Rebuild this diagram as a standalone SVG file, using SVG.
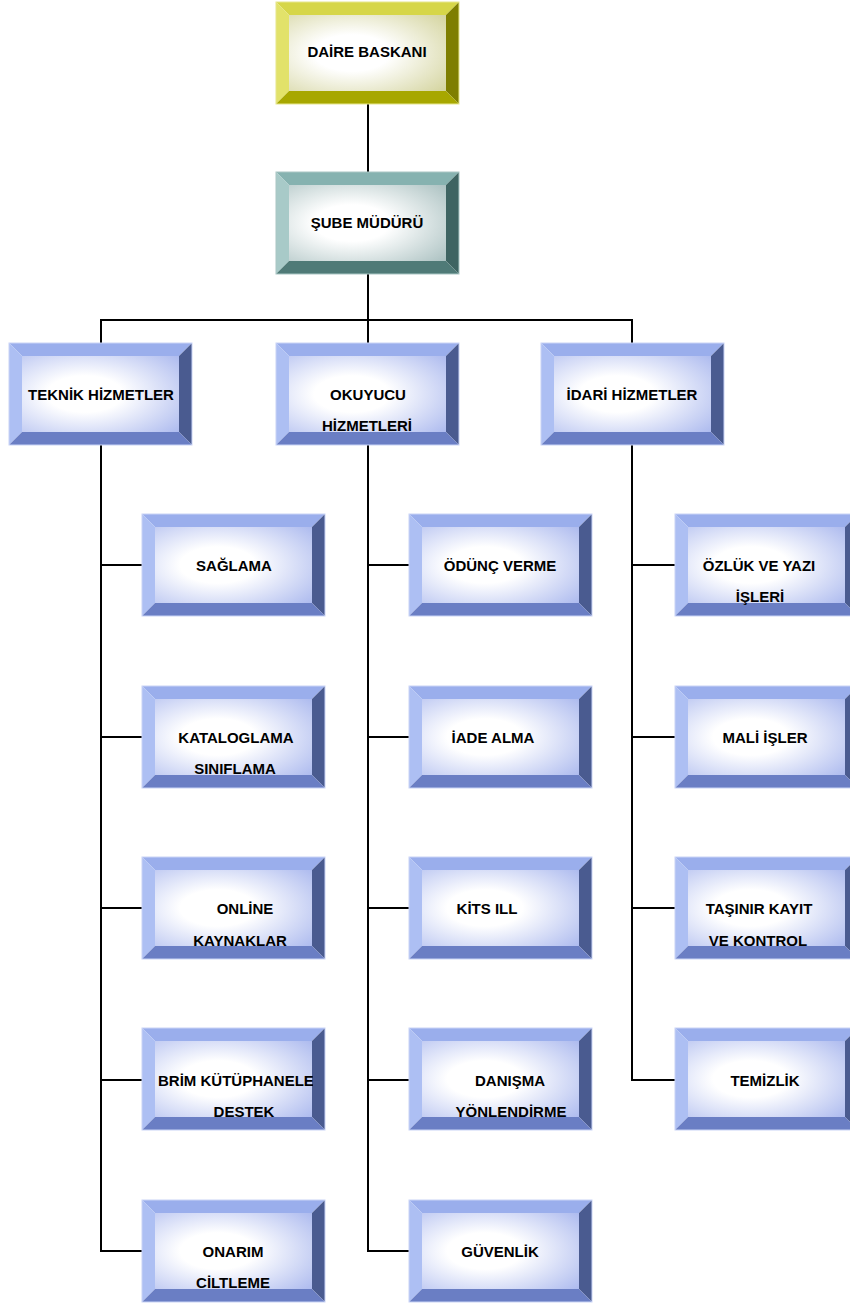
<svg xmlns="http://www.w3.org/2000/svg" xmlns:xlink="http://www.w3.org/1999/xlink" width="850" height="1304" viewBox="0 0 850 1304">
<style>
text{font-family:"Liberation Sans",Arial,sans-serif;font-weight:bold;font-size:15px;fill:#000;text-anchor:middle;dominant-baseline:central}
.ln{stroke:#000;stroke-width:2;fill:none}
.bT{fill:#9aaeec}.bL{fill:#adbff3}.bR{fill:#4a5b90}.bB{fill:#6a7ec4}
.yT{fill:#d6d648}.yL{fill:#e2e26a}.yR{fill:#7e7e00}.yB{fill:#a7a700}
.gT{fill:#86b2b0}.gL{fill:#a8cac8}.gR{fill:#3e6462}.gB{fill:#4f7a77}
</style>
<defs>
<radialGradient id="fb" cx="0.4" cy="0.5" r="0.8"><stop offset="0.3" stop-color="#ffffff"/><stop offset="1" stop-color="#aab8ee"/></radialGradient>
<radialGradient id="fy" cx="0.4" cy="0.5" r="0.8"><stop offset="0.3" stop-color="#ffffff"/><stop offset="1" stop-color="#d2d29a"/></radialGradient>
<radialGradient id="fg" cx="0.4" cy="0.5" r="0.8"><stop offset="0.3" stop-color="#ffffff"/><stop offset="1" stop-color="#a8bfbf"/></radialGradient>
<g id="boxB">
<polygon class="bT" points="0,0 183,0 170,13 13,13"/>
<polygon class="bL" points="0,0 13,13 13,89 0,102"/>
<polygon class="bR" points="183,0 183,102 170,89 170,13"/>
<polygon class="bB" points="0,102 13,89 170,89 183,102"/>
<rect x="13" y="13" width="157" height="76" fill="url(#fb)"/>
<rect x="0" y="0" width="183" height="102" fill="none" stroke="#c9d4f6" stroke-width="1"/>
</g>
<g id="boxY">
<polygon class="yT" points="0,0 183,0 170,13 13,13"/>
<polygon class="yL" points="0,0 13,13 13,89 0,102"/>
<polygon class="yR" points="183,0 183,102 170,89 170,13"/>
<polygon class="yB" points="0,102 13,89 170,89 183,102"/>
<rect x="13" y="13" width="157" height="76" fill="url(#fy)"/>
<rect x="0" y="0" width="183" height="102" fill="none" stroke="#e6e68c" stroke-width="1"/>
</g>
<g id="boxG">
<polygon class="gT" points="0,0 183,0 170,13 13,13"/>
<polygon class="gL" points="0,0 13,13 13,89 0,102"/>
<polygon class="gR" points="183,0 183,102 170,89 170,13"/>
<polygon class="gB" points="0,102 13,89 170,89 183,102"/>
<rect x="13" y="13" width="157" height="76" fill="url(#fg)"/>
<rect x="0" y="0" width="183" height="102" fill="none" stroke="#a9c6c4" stroke-width="1"/>
</g>
<clipPath id="clipBrim"><rect x="142" y="1028" width="171" height="103"/></clipPath>
</defs>

<g id="connectors">
<line class="ln" x1="368" y1="104" x2="368" y2="172"/>
<line class="ln" x1="368" y1="274" x2="368" y2="320"/>
<polyline class="ln" points="101,343 101,320 632,320 632,343"/>
<line class="ln" x1="368" y1="320" x2="368" y2="343"/>
<line class="ln" x1="101" y1="445" x2="101" y2="1251"/>
<line class="ln" x1="368" y1="445" x2="368" y2="1251"/>
<line class="ln" x1="632" y1="445" x2="632" y2="1080"/>
<line class="ln" x1="100" y1="565" x2="142" y2="565"/>
<line class="ln" x1="100" y1="737" x2="142" y2="737"/>
<line class="ln" x1="100" y1="908" x2="142" y2="908"/>
<line class="ln" x1="100" y1="1080" x2="142" y2="1080"/>
<line class="ln" x1="100" y1="1251" x2="142" y2="1251"/>
<line class="ln" x1="367" y1="565" x2="409" y2="565"/>
<line class="ln" x1="367" y1="737" x2="409" y2="737"/>
<line class="ln" x1="367" y1="908" x2="409" y2="908"/>
<line class="ln" x1="367" y1="1080" x2="409" y2="1080"/>
<line class="ln" x1="367" y1="1251" x2="409" y2="1251"/>
<line class="ln" x1="631" y1="565" x2="675" y2="565"/>
<line class="ln" x1="631" y1="737" x2="675" y2="737"/>
<line class="ln" x1="631" y1="908" x2="675" y2="908"/>
<line class="ln" x1="631" y1="1080" x2="675" y2="1080"/>
</g>

<g id="daire-baskani"><use xlink:href="#boxY" transform="translate(276,2)"/><text x="367" y="51">DAİRE BASKANI</text></g>
<g id="sube-muduru"><use xlink:href="#boxG" transform="translate(276,172)"/><text x="367" y="222">ŞUBE MÜDÜRÜ</text></g>

<g id="teknik-hizmetler"><use xlink:href="#boxB" transform="translate(9,343)"/><text x="101" y="394">TEKNİK HİZMETLER</text></g>
<g id="okuyucu-hizmetleri"><use xlink:href="#boxB" transform="translate(276,343)"/><text x="368" y="394">OKUYUCU</text><text x="367" y="425">HİZMETLERİ</text></g>
<g id="idari-hizmetler"><use xlink:href="#boxB" transform="translate(541,343)"/><text x="632" y="394">İDARİ HİZMETLER</text></g>

<g id="saglama"><use xlink:href="#boxB" transform="translate(142,514)"/><text x="234" y="565">SAĞLAMA</text></g>
<g id="kataloglama"><use xlink:href="#boxB" transform="translate(142,686)"/><text x="236" y="737">KATALOGLAMA</text><text x="235" y="768">SINIFLAMA</text></g>
<g id="online-kaynaklar"><use xlink:href="#boxB" transform="translate(142,857)"/><text x="245" y="908">ONLİNE</text><text x="240" y="940">KAYNAKLAR</text></g>
<g id="brim-kutuphane"><use xlink:href="#boxB" transform="translate(142,1028)"/><text x="158" y="1080" clip-path="url(#clipBrim)" style="text-anchor:start">BRİM KÜTÜPHANELE</text><text x="244" y="1111">DESTEK</text></g>
<g id="onarim-ciltleme"><use xlink:href="#boxB" transform="translate(142,1200)"/><text x="233" y="1251">ONARIM</text><text x="233" y="1282">CİLTLEME</text></g>

<g id="odunc-verme"><use xlink:href="#boxB" transform="translate(409,514)"/><text x="500" y="565">ÖDÜNÇ VERME</text></g>
<g id="iade-alma"><use xlink:href="#boxB" transform="translate(409,686)"/><text x="493" y="737">İADE ALMA</text></g>
<g id="kits-ill"><use xlink:href="#boxB" transform="translate(409,857)"/><text x="487" y="908">KİTS ILL</text></g>
<g id="danisma"><use xlink:href="#boxB" transform="translate(409,1028)"/><text x="510" y="1080">DANIŞMA</text><text x="511" y="1111">YÖNLENDİRME</text></g>
<g id="guvenlik"><use xlink:href="#boxB" transform="translate(409,1200)"/><text x="500" y="1251">GÜVENLİK</text></g>

<g id="ozluk"><use xlink:href="#boxB" transform="translate(675,514)"/><text x="759" y="565">ÖZLÜK VE YAZI</text><text x="760" y="596">İŞLERİ</text></g>
<g id="mali-isler"><use xlink:href="#boxB" transform="translate(675,686)"/><text x="765" y="737">MALİ İŞLER</text></g>
<g id="tasinir"><use xlink:href="#boxB" transform="translate(675,857)"/><text x="759" y="908">TAŞINIR KAYIT</text><text x="758" y="940">VE KONTROL</text></g>
<g id="temizlik"><use xlink:href="#boxB" transform="translate(675,1028)"/><text x="765" y="1080">TEMİZLİK</text></g>
</svg>
